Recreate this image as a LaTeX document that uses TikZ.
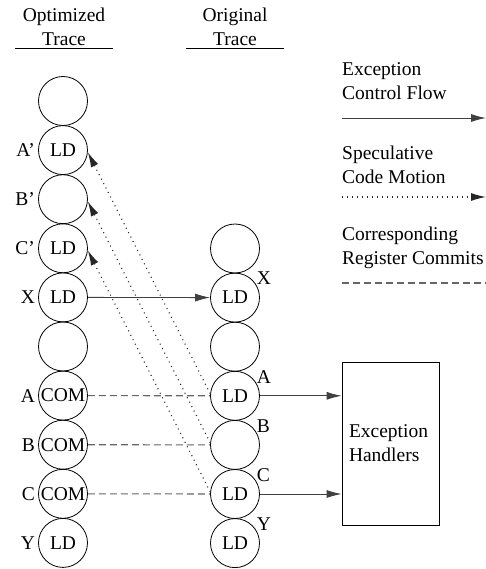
\documentclass[tikz,border=0pt]{standalone}
\usepackage{fontspec}
\setmainfont{Liberation Serif}
\usetikzlibrary{shapes, arrows.meta, positioning}
\tikzstyle{slot} = [
    circle,
    draw=black,
    line width=0.8pt,
    minimum size=49pt,
    inner sep=0pt,
    text centered
]
\tikzstyle{header} = [
    align=center,
    minimum width=98pt,
    inner sep=2pt
]
\tikzstyle{legend} = [
    align=left,
    anchor=west,
    inner sep=0pt
]
\tikzstyle{flow} = [
    line width=0.9pt,
    draw=black!75,
    -{Latex[length=15pt,width=8pt]}
]
\tikzstyle{motion} = [
    line width=1.1pt,
    dash pattern=on 1pt off 4pt,
    draw=black!85,
    -{Latex[length=15pt,width=8pt]}
]
\tikzstyle{commit} = [
    line width=1.1pt,
    dash pattern=on 7pt off 4pt,
    draw=black!60
]

\begin{document}
\begin{tikzpicture}[x=1pt, y=-1pt, node distance=49.1pt,
    font=\fontsize{19.5}{24}\selectfont,
    every label/.style={inner sep=0pt}]
            \useasboundingbox (0,0) rectangle (486,569);

            % column headers
            \node[header] (optHead) at (64,27) {Optimized\\Trace};
            \node[header] (origHead) at (235,27) {Original\\Trace};
            \draw[line width=0.8pt] (optHead.south west) -- (optHead.south east);
            \draw[line width=0.8pt] (origHead.south west) -- (origHead.south east);

            % optimized trace
            \node[slot] (o0) at (63,101) {};
            \node[slot, label={[label distance=3pt]left:A'}] (oAp) [below of=o0] {LD};
            \node[slot, label={[label distance=3pt]left:B'}] (oBp) [below of=oAp] {};
            \node[slot, label={[label distance=3pt]left:C'}] (oCp) [below of=oBp] {LD};
            \node[slot, label={[label distance=3pt]left:X}] (oX) [below of=oCp] {LD};
            \node[slot] (o5) [below of=oX] {};
            \node[slot, label={[label distance=3pt]left:A}] (oA) [below of=o5] {COM};
            \node[slot, label={[label distance=3pt]left:B}] (oB) [below of=oA] {COM};
            \node[slot, label={[label distance=3pt]left:C}] (oC) [below of=oB] {COM};
            \node[slot, label={[label distance=3pt]left:Y}] (oY) [below of=oC] {LD};

            % original trace
            \node[slot] (r0) at (235,248.5) {};
            \node[slot, label={30:X}] (rX) [below of=r0] {LD};
            \node[slot] (r2) [below of=rX] {};
            \node[slot, label={30:A}] (rA) [below of=r2] {LD};
            \node[slot, label={30:B}] (rB) [below of=rA] {};
            \node[slot, label={30:C}] (rC) [below of=rB] {LD};
            \node[slot, label={30:Y}] (rY) [below of=rC] {LD};

            % exception handlers
            \node[draw=black, line width=0.8pt, minimum width=97pt, minimum height=163pt,
                  align=left, text width=83pt] (handlers) at (390.5,443.5) {Exception\\Handlers};

            % connectors
            \draw[flow] (oX) -- (rX);
            \draw[flow] (rA) -- (rA -| handlers.west);
            \draw[flow] (rC) -- (rC -| handlers.west);
            \draw[motion] (rA.175) -- (oAp.-5);
            \draw[motion] (rB.175) -- (oBp.-5);
            \draw[motion] (rC.175) -- (oCp.-5);
            \draw[commit] (oA) -- (rA);
            \draw[commit] (oB) -- (rB);
            \draw[commit] (oC) -- (rC);

            % legend
            \node[legend] (lgFlow) at (342,81) {Exception\\Control Flow};
            \node[legend] (lgMotion) at (342,165) {Speculative\\Code Motion};
            \node[legend] (lgCommit) at (342,248) {Corresponding\\Register Commits};
            \coordinate (f0) at (342,118);
            \coordinate (f1) at (486,118);
            \coordinate (m0) at (342,197);
            \coordinate (m1) at (486,197);
            \coordinate (c0) at (342,283);
            \coordinate (c1) at (486,283);
            \draw[flow] (f0) -- (f1);
            \draw[motion] (m0) -- (m1);
            \draw[commit] (c0) -- (c1);
        \end{tikzpicture}
\end{document}
